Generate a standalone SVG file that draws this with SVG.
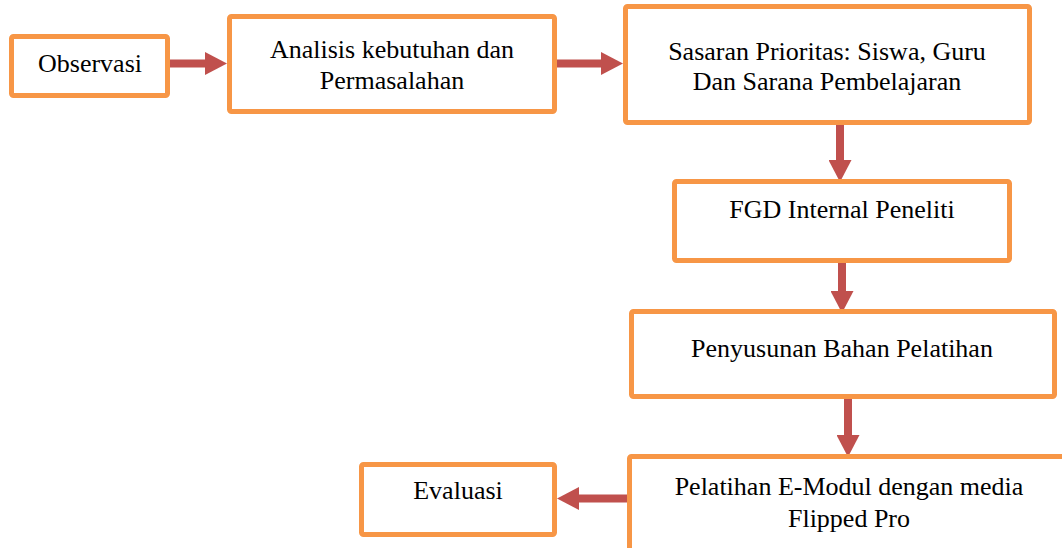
<svg xmlns="http://www.w3.org/2000/svg" width="1062" height="548" viewBox="0 0 1062 548">
<style>
.box{fill:#fff;stroke:#F79646;stroke-width:5}
.t{font-family:"Liberation Serif","Times New Roman",serif;font-size:26px;fill:#000;text-anchor:middle}
.arr{stroke:#C0504D;stroke-width:8;fill:none}
</style>
<defs>
<marker id="ah" viewBox="0 0 22 23" refX="0" refY="11.5" markerWidth="22" markerHeight="23" markerUnits="userSpaceOnUse" orient="auto">
<path d="M0,0 L22,11.5 L0,23 Z" fill="#C0504D"/>
</marker>
</defs>
<rect width="1062" height="548" fill="#fff"/>
<g id="connectors">
<line class="arr" x1="170" y1="63.5" x2="205" y2="63.5" marker-end="url(#ah)"/>
<line class="arr" x1="557" y1="63.5" x2="601" y2="63.5" marker-end="url(#ah)"/>
<line class="arr" x1="840" y1="125" x2="840" y2="160" marker-end="url(#ah)"/>
<line class="arr" x1="842" y1="263" x2="842" y2="291" marker-end="url(#ah)"/>
<line class="arr" x1="848" y1="399" x2="848" y2="435" marker-end="url(#ah)"/>
<line class="arr" x1="627" y1="498.5" x2="579" y2="498.5" marker-end="url(#ah)"/>
</g>
<g id="observasi">
<rect class="box" x="11.5" y="36.5" width="156" height="59" rx="2"/>
<text class="t" x="90" y="72">Observasi</text>
</g>
<g id="analisis">
<rect class="box" x="229.5" y="16.5" width="325" height="95" rx="2"/>
<text class="t" x="392" y="58">Analisis kebutuhan dan</text>
<text class="t" x="392" y="89">Permasalahan</text>
</g>
<g id="sasaran">
<rect class="box" x="625.5" y="6.5" width="404" height="116" rx="2"/>
<text class="t" x="827" y="60">Sasaran Prioritas: Siswa, Guru</text>
<text class="t" x="827" y="90">Dan Sarana Pembelajaran</text>
</g>
<g id="fgd">
<rect class="box" x="674.5" y="181.5" width="335" height="79" rx="2"/>
<text class="t" x="842" y="218">FGD Internal Peneliti</text>
</g>
<g id="penyusunan">
<rect class="box" x="631.5" y="311.5" width="423" height="85" rx="2"/>
<text class="t" x="842" y="357">Penyusunan Bahan Pelatihan</text>
</g>
<g id="pelatihan">
<rect class="box" x="629.5" y="456.5" width="440" height="120" rx="2"/>
<text class="t" x="849" y="495">Pelatihan E-Modul dengan media</text>
<text class="t" x="849" y="527">Flipped Pro</text>
</g>
<g id="evaluasi">
<rect class="box" x="361.5" y="464.5" width="193" height="70" rx="2"/>
<text class="t" x="458" y="499">Evaluasi</text>
</g>
</svg>
